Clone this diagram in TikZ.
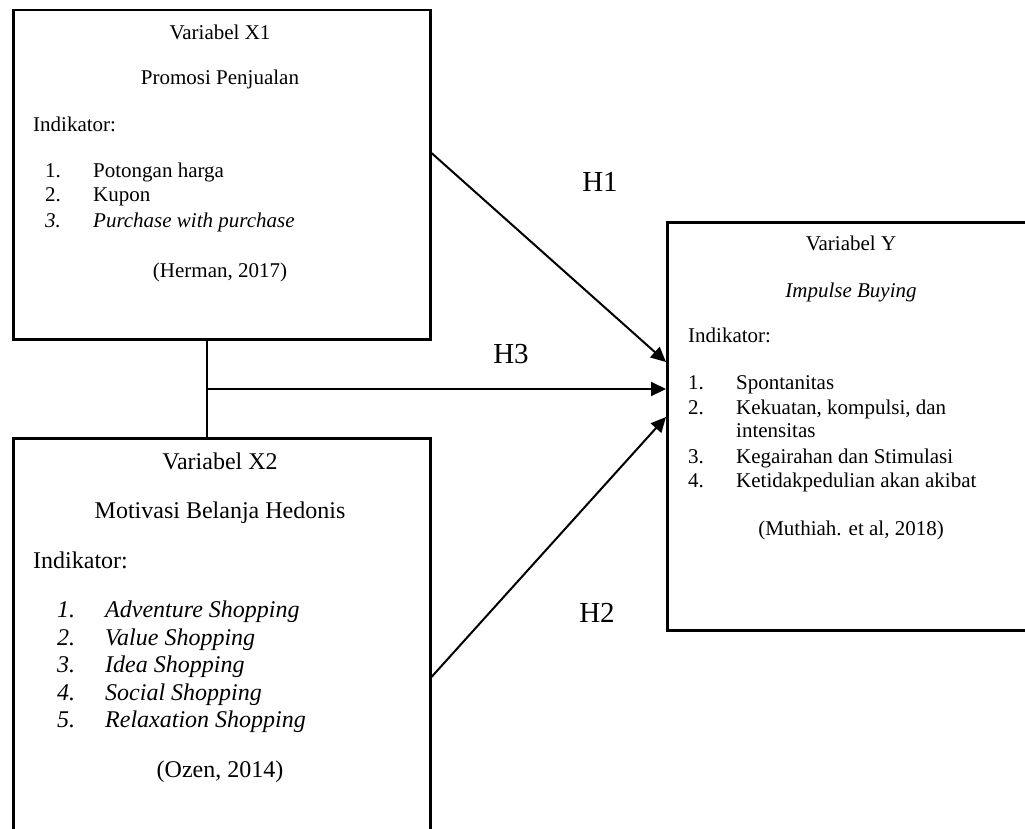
\documentclass[tikz,border=0pt]{standalone}
\usepackage{fontspec}
\setmainfont{Liberation Serif}
\usetikzlibrary{arrows.meta, positioning}

\begin{document}
\begin{tikzpicture}[
        x=1pt, y=-1pt,
        box/.style={rectangle, draw, line width=2.5pt, inner sep=0pt, anchor=north west},
        txt/.style={inner sep=0pt, anchor=base},
        ltxt/.style={inner sep=0pt, anchor=base west},
        small/.style={font=\fontsize{21}{24}\selectfont},
        big/.style={font=\fontsize{24}{28}\selectfont},
        hyp/.style={inner sep=0pt, anchor=base, font=\fontsize{29}{34}\selectfont},
        arrow/.style={-{Triangle[length=15pt, width=14pt]}, line width=2pt},
        link/.style={line width=1.3pt}
    ]
        \useasboundingbox (0,0) rectangle (1025,829);
        \clip (0,0) rectangle (1025,829);

        \node[box, minimum width=417pt, minimum height=329pt] (x1) at (12,9) {};
        \node[box, minimum width=417pt, minimum height=430pt] (x2) at (12,437) {};
        \node[box, minimum width=372pt, minimum height=408pt] (y) at (666,221) {};

        \node[txt, small] (x1a) at (220,40) {Variabel X1};
        \node[txt, small] (x1b) at (220,85) {Promosi Penjualan};
        \node[ltxt, small] (x1c) at (33,132) {Indikator:};
        \foreach \n/\yy/\t in {1/178/{Potongan harga}, 2/202/Kupon} {
            \node[ltxt, small] (x1n\n) at (45,\yy) {\n.};
            \node[ltxt, small] (x1t\n) at (93,\yy) {\t};
        }
        \node[ltxt, small] (x1n3) at (45,227) {\itshape 3.};
        \node[ltxt, small] (x1t3) at (93,227) {\itshape Purchase with purchase};
        \node[txt, small] (x1d) at (220,277) {(Herman, 2017)};

        \node[txt, big] (x2a) at (220,469) {Variabel X2};
        \node[txt, big] (x2b) at (220,518) {Motivasi Belanja Hedonis};
        \node[ltxt, big] (x2c) at (33,568) {Indikator:};
        \foreach \n/\yy/\t in {1/617/Adventure Shopping, 2/645/Value Shopping, 3/672/Idea Shopping, 4/700/Social Shopping, 5/727/Relaxation Shopping} {
            \node[ltxt, big] (x2n\n) at (57,\yy) {\itshape \n.};
            \node[ltxt, big] (x2t\n) at (105,\yy) {\itshape \t};
        }
        \node[txt, big] (x2d) at (220,777) {(Ozen, 2014)};

        \node[txt, small] (ya) at (851,251) {Variabel Y};
        \node[txt, small] (yb) at (851,297) {\itshape Impulse Buying};
        \node[ltxt, small] (yc) at (688,342) {Indikator:};
        \foreach \n/\yy/\t in {1/389/Spontanitas, 2/414/{Kekuatan, kompulsi, dan}, 3/463/{Kegairahan dan Stimulasi}, 4/487/{Ketidakpedulian akan akibat}} {
            \node[ltxt, small] (yn\n) at (688,\yy) {\n.};
            \node[ltxt, small] (yt\n) at (736,\yy) {\t};
        }
        \node[ltxt, small] (yt2b) at (736,437) {intensitas};
        \node[txt, small] (yd) at (851,535) {(Muthiah. et al, 2018)};

        \coordinate (h1s) at (x1.east |- 0,153);
        \coordinate (h2s) at (x2.east |- 0,677);
        \coordinate (tl) at (183,340);
        \coordinate (brk) at (207,389);
        \coordinate (h3s) at (231,389);

        \draw[link] (tl) -| (brk |- x2.north);
        \draw[link] (brk) -- (h3s);
        \draw[arrow] (h1s) -- (y.west |- 0,362);
        \draw[arrow] (h3s) -- (y.west |- h3s);
        \draw[arrow] (h2s) -- (y.west |- 0,417);

        \node[hyp] (h1) at (600,192) {H1};
        \node[hyp] (h3) at (511,363) {H3};
        \node[hyp] (h2) at (597,622) {H2};
    \end{tikzpicture}
\end{document}
